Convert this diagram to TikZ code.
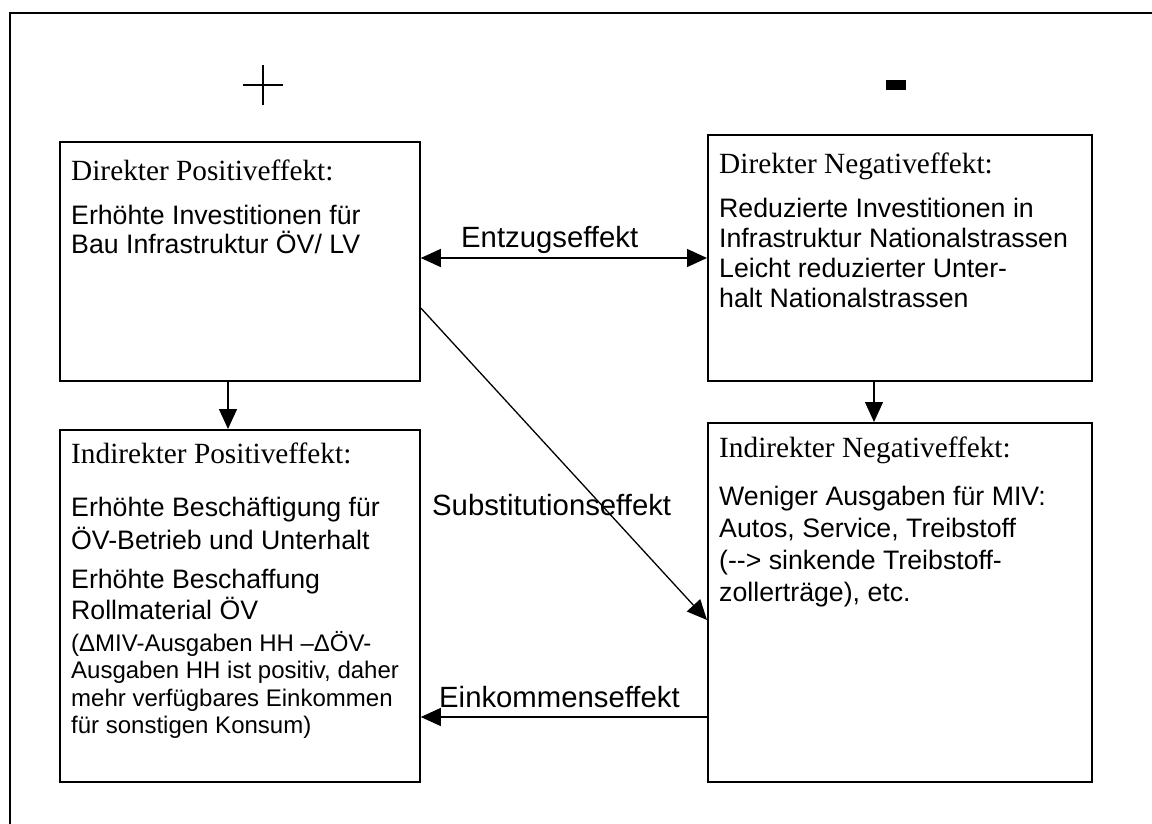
\documentclass[tikz,border=0pt]{standalone}
\usepackage{fontspec}
\setmainfont{Liberation Serif}[Ligatures=NoCommon]
\newfontfamily\arial{Liberation Sans}[Ligatures=NoCommon]
\usetikzlibrary{arrows.meta}
\tikzset{
  box/.style={draw, line width=1.8bp, anchor=north west, inner sep=0pt},
  head/.style={anchor=base west, inner sep=0pt, font=\fontsize{29.3bp}{33bp}\selectfont},
  body/.style={anchor=base west, inner sep=0pt, font=\arial\fontsize{26.7bp}{30bp}\selectfont},
  small/.style={anchor=base west, inner sep=0pt, font=\arial\fontsize{24bp}{27bp}\selectfont},
  lbl/.style={anchor=base west, inner sep=0pt, font=\arial\fontsize{29.3bp}{33bp}\selectfont},
  arr/.style={line width=1.3bp, -{Triangle[length=20bp,width=18bp]}},
  dbl/.style={line width=1.3bp, {Triangle[length=20bp,width=18bp]}-{Triangle[length=20bp,width=18bp]}}
}
\begin{document}
\begin{tikzpicture}[x=1bp,y=-1bp]
\useasboundingbox (0,0) rectangle (1152,824);
\fill[white] (0,0) rectangle (1152,824);
% outer frame (cropped at right and bottom)
\draw[line width=2bp] (10,824) -- (10,13) -- (1152,13);
% plus and minus
\draw[line width=2bp] (243,85) -- (283,85) (263,65) -- (263,105);
\fill (886,80) rectangle (906,90);
% boxes
\node[box, minimum width=360bp, minimum height=239bp] (b1) at (59,141) {};
\node[box, minimum width=384bp, minimum height=246bp] (b2) at (707,134) {};
\node[box, minimum width=360bp, minimum height=352bp] (b3) at (59,429) {};
\node[box, minimum width=384bp, minimum height=359bp] (b4) at (707,422) {};
% box 1 text
\node[head] (t1h) at (71,180) {Direkter Positiveffekt:};
\node[body] (t1a) at (71,224) {Erhöhte Investitionen für};
\node[body] (t1b) at (71,253) {Bau Infrastruktur ÖV/ LV};
% box 2 text
\node[head] (t2h) at (719,173) {Direkter Negativeffekt:};
\node[body] (t2a) at (719,217) {Reduzierte Investitionen in};
\node[body] (t2b) at (719,247) {Infrastruktur Nationalstrassen};
\node[body] (t2c) at (719,277) {Leicht reduzierter Unter-};
\node[body] (t2d) at (719,307) {halt Nationalstrassen};
% box 3 text
\node[head] (t3h) at (71,463) {Indirekter Positiveffekt:};
\node[body] (t3a) at (71,516) {Erhöhte Beschäftigung für};
\node[body] (t3b) at (71,549) {ÖV-Betrieb und Unterhalt};
\node[body] (t3c) at (71,588) {Erhöhte Beschaffung};
\node[body] (t3d) at (71,619) {Rollmaterial ÖV};
\node[small] (t3e) at (71,651) {(ΔMIV-Ausgaben HH –ΔÖV-};
\node[small] (t3f) at (71,678) {Ausgaben HH ist positiv, daher};
\node[small] (t3g) at (71,706) {mehr verfügbares Einkommen};
\node[small] (t3h2) at (71,733) {für sonstigen Konsum)};
% box 4 text
\node[head] (t4h) at (719,457) {Indirekter Negativeffekt:};
\node[body] (t4a) at (719,505) {Weniger Ausgaben für MIV:};
\node[body] (t4b) at (719,537) {Autos, Service, Treibstoff};
\node[body] (t4c) at (719,569) {(-{}-> sinkende Treibstoff-};
\node[body] (t4d) at (719,601) {zollerträge), etc.};
% helper coordinates
\coordinate (cA) at (228,0);
\coordinate (cB) at (874,0);
\coordinate (yE) at (0,258);
\coordinate (yS1) at (0,308);
\coordinate (yS2) at (0,620);
\coordinate (yK) at (0,717);
% connectors
\draw[arr] (cA |- b1.south) -- (cA |- b3.north);
\draw[arr] (cB |- b2.south) -- (cB |- b4.north);
\draw[dbl] (b1.east |- yE) -- (b2.west |- yE);
\draw[arr] (b1.east |- yS1) -- (b4.west |- yS2);
\draw[arr] (b4.west |- yK) -- (b3.east |- yK);
% connector labels
\node[lbl] (lE) at (461,247) {Entzugseffekt};
\node[lbl] (lS) at (432,515) {Substitutionseffekt};
\node[lbl] (lK) at (439,707) {Einkommenseffekt};
\end{tikzpicture}
\end{document}
